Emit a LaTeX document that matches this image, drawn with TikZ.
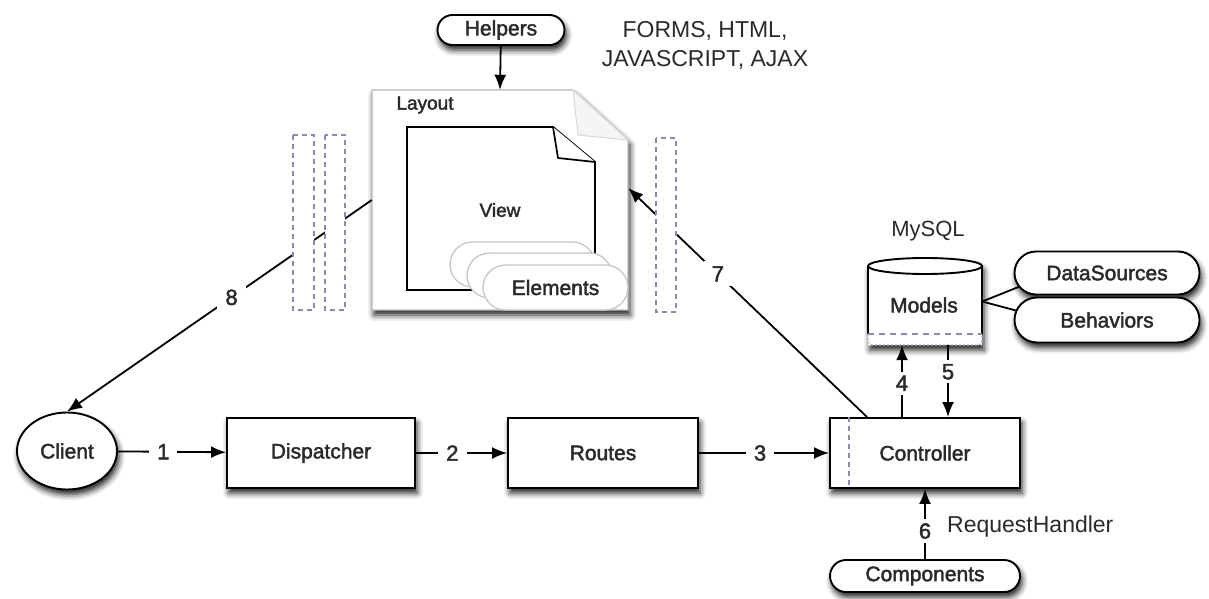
\documentclass[tikz,border=0pt]{standalone}
\usepackage{fontspec}
\setmainfont{Liberation Sans}
\newfontfamily\nodefont[FakeBold=2]{Liberation Sans}
\usetikzlibrary{arrows.meta,shapes.misc,shapes.geometric,shadows.blur}
\definecolor{txt}{HTML}{2A2A2A}
\definecolor{dsh}{HTML}{8A8AB0}
\begin{document}
\begin{tikzpicture}[x=1pt,y=-1pt,
  shad/.style={blur shadow={shadow xshift=2pt, shadow yshift=-5pt, shadow blur radius=6pt, shadow opacity=90}},
  box/.style={draw=black, line width=1.9pt, fill=white, shad, inner sep=0pt,
    font=\nodefont\fontsize{21}{24}\selectfont, text=txt},
  pill/.style={box, rounded rectangle},
  epill/.style={draw=gray!45, line width=1.3pt, fill=white, rounded rectangle, inner sep=0pt,
    minimum width=145pt, minimum height=45pt, font=\nodefont\fontsize{21}{24}\selectfont, text=txt},
  arr/.style={line width=1.8pt, -{Latex[length=15pt,width=12pt,fill=black,color=black]}},
  lbl/.style={fill=white, inner xsep=8pt, inner ysep=5pt, font=\nodefont\fontsize{22}{24}\selectfont, text=txt},
  plain/.style={font=\fontsize{23}{29}\selectfont, text=txt, inner sep=0pt},
  dbox/.style={draw=dsh, line width=1.6pt, fill=white, dash pattern=on 5pt off 4pt},
]
\useasboundingbox (0,0) rectangle (1209,599);

% ---- top: helpers and text
\node[pill, minimum width=127pt, minimum height=30pt] (helpers) at (501,30) {Helpers};
\node[plain, align=center] (forms) at (705,45) {FORMS, HTML,\\JAVASCRIPT, AJAX};

% ---- Layout page
\node[inner sep=0pt, minimum width=256pt, minimum height=220pt] (layout) at (500,200) {};
\path[fill=white, draw=gray!55, line width=1.2pt, shad]
  (372,90) -- (573,90) -- (628,140) -- (628,310) -- (372,310) -- cycle;
\path[fill=gray!8, draw=gray!30, line width=1pt] (573,90) -- (578,135) -- (628,140) -- cycle;
\node[font=\nodefont\fontsize{19}{22}\selectfont, text=txt, inner sep=0pt] (layoutlbl) at (425,105) {Layout};
% View page
\path[fill=white, draw=black, line width=1.9pt]
  (407,127) -- (553,127) -- (595,162) -- (595,290) -- (407,290) -- cycle;
\path[fill=white, draw=black, line width=1.7pt, line join=round] (553,127) -- (558,158) -- (595,162);
\node[font=\nodefont\fontsize{19}{22}\selectfont, text=txt, inner sep=0pt] (view) at (500,210) {View};
% Elements
\node[epill] (el3) at (522.5,264.5) {};
\node[epill] (el2) at (539.5,275.5) {};
\node[epill] (elements) at (555.5,287.5) {Elements};

% ---- Models cylinder
\node[font=\fontsize{22}{26}\selectfont, text=txt, inner sep=0pt] (mysql) at (928,231) {MySQL};
\node[inner sep=0pt, minimum width=114pt, minimum height=87pt] (models) at (925,301.5) {};
\path[fill=white, shad] (868,266) -- (868,345) -- (982,345) -- (982,266)
  arc[start angle=0, end angle=180, x radius=57pt, y radius=8pt] -- cycle;
\draw[line width=1.9pt] (925,266) ellipse[x radius=57pt, y radius=8pt];
\draw[line width=1.9pt] (868,266) -- (868,334) (982,266) -- (982,334);
\draw[dsh, line width=1.6pt, dash pattern=on 6pt off 5pt] (868,334) -- (982,334);
\draw[dsh!70, line width=1.2pt, dash pattern=on 2pt off 2pt, rounded corners=4pt] (868,334) -- (868,345) -- (982,345) -- (982,334);
\node[font=\nodefont\fontsize{21}{24}\selectfont, text=txt, inner sep=0pt] (modelslbl) at (924,305) {Models};

\node[pill, minimum width=185pt, minimum height=43pt] (ds) at (1107,273) {DataSources};
\node[pill, minimum width=185pt, minimum height=45pt] (bh) at (1107,320) {Behaviors};
\draw[line width=1.8pt] (models.east) -- (ds.189);
\draw[line width=1.8pt] (models.east) -- (bh.174);

% ---- bottom row
\node[box, ellipse, minimum width=100pt, minimum height=77pt] (client) at (67,451) {Client};
\node[box, minimum width=188pt, minimum height=70pt] (dispatcher) at (321,453) {Dispatcher};
\node[box, minimum width=190pt, minimum height=70pt] (routes) at (603,453) {Routes};
\node[box, minimum width=190pt, minimum height=70pt] (controller) at (925,453) {Controller};
\draw[dsh, line width=1.6pt, dash pattern=on 5pt off 4pt]
  ([xshift=20pt]controller.north west) -- ([xshift=20pt]controller.south west);
\node[pill, minimum width=190pt, minimum height=32pt] (components) at (925,576) {Components};
\node[plain, anchor=west] (rh) at (947,527) {RequestHandler};

% ---- connectors
\draw[arr] (helpers) -- (layout.north);
\draw[arr] (client) -- node[lbl, pos=.42] {1} (dispatcher);
\draw[arr] (dispatcher) -- node[lbl, pos=.4] {2} (routes);
\draw[arr] (routes) -- node[lbl, pos=.47] {3} (controller);
\draw[arr] ([xshift=-23pt]controller.north) -- node[lbl, inner xsep=2pt, inner ysep=4pt, pos=.47] {4} ([xshift=-23pt]models.south);
\draw[arr] ([xshift=23pt]models.south) -- node[lbl, inner xsep=2pt, inner ysep=4pt, pos=.37] {5} ([xshift=23pt]controller.north);
\draw[arr] (components) -- node[lbl, inner xsep=2pt, inner ysep=4pt, pos=.4] {6} (controller);
\draw[arr] ([xshift=38pt]controller.north west) -- node[lbl, pos=.625] {7} ([yshift=12pt]layout.east);
\draw[arr] (layout.west) -- node[lbl, pos=.46] {8} (client.north);

% ---- dashed boundary boxes
\path[dbox] (293,135) rectangle (314,310);
\path[dbox] (325,135) rectangle (345,310);
\path[dbox] (656,138) rectangle (676,312);
\end{tikzpicture}
\end{document}
